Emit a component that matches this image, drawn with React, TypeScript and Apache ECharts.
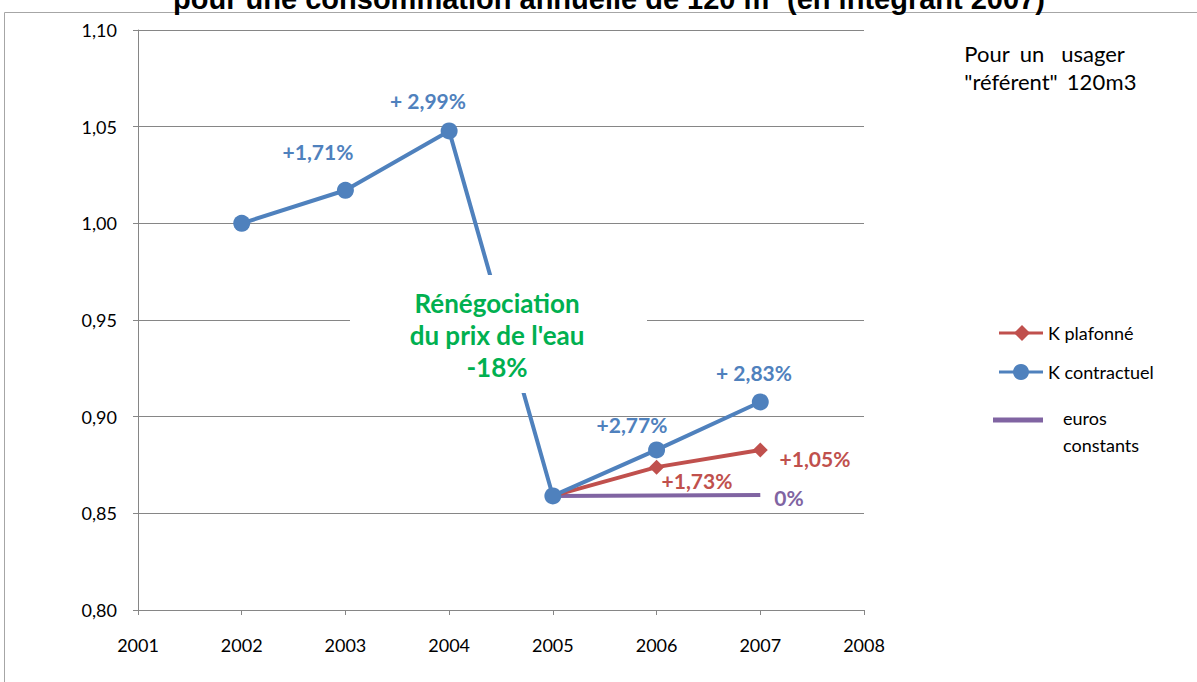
import React, { useEffect, useRef } from "react";
import * as echarts from "echarts";

const years = [2002, 2003, 2004, 2005, 2006, 2007];
const kContractuel = [1.0, 1.0171, 1.0478, 0.859, 0.8828, 0.9076];
const kPlafonneYears = [2005, 2006, 2007];
const kPlafonne = [0.859, 0.8739, 0.8828];
const eurosYears = [2005, 2007];
const eurosConstants = [0.859, 0.8595];

const blueLabels = ["+1,71%", "+ 2,99%", "+2,77%", "+ 2,83%"];
const redLabels = ["+1,73%", "+1,05%"];
const purpleLabel = "0%";

const BLUE = "#4F81BD";
const RED = "#C0504D";
const PURPLE = "#8064A2";
const GREEN = "#00B050";
const GRID = "#868686";
const FONT = "Lato, 'Open Sans', sans-serif";

export default function App() {
  const ref = useRef<HTMLDivElement>(null);
  useEffect(() => {
    document.body.style.margin = "0";
    const chart = echarts.init(ref.current!, null, { renderer: "svg" });
    const lbl = (text: string, x: number, y: number, fill: string, size = 21) => ({
      type: "text",
      x,
      y,
      z: 110,
      style: { text, fill, font: `bold ${size}px ${FONT}`, align: "center", verticalAlign: "middle" },
    });
    const txt = (text: string, x: number, y: number, size = 18, align = "left") => ({
      type: "text",
      x,
      y,
      z: 110,
      style: { text, fill: "#000", font: `${size}px ${FONT}`, align, verticalAlign: "middle" },
    });
    chart.setOption({
      animation: false,
      backgroundColor: "#fff",
      grid: { left: 138, right: 333, top: 30, bottom: 72 },
      xAxis: {
        type: "value",
        min: 2001,
        max: 2008,
        interval: 1,
        axisLine: { show: true, lineStyle: { color: GRID, width: 1 } },
        axisTick: { show: true, length: 5, lineStyle: { color: GRID } },
        splitLine: { show: false },
        axisLabel: {
          color: "#000",
          fontFamily: FONT,
          fontSize: 18,
          margin: 26,
          formatter: (v: number) => String(Math.round(v)),
        },
      },
      yAxis: {
        type: "value",
        min: 0.8,
        max: 1.1,
        interval: 0.05,
        axisLine: { show: true, lineStyle: { color: GRID, width: 1 } },
        axisTick: { show: true, length: 5, lineStyle: { color: GRID } },
        splitLine: { show: true, lineStyle: { color: GRID, width: 1 } },
        axisLabel: {
          color: "#000",
          fontFamily: FONT,
          fontSize: 18,
          margin: 21,
          formatter: (v: number) => v.toFixed(2).replace(".", ","),
        },
      },
      series: [
        {
          name: "euros constants",
          type: "line",
          data: eurosYears.map((y, i) => [y, eurosConstants[i]]),
          symbol: "none",
          lineStyle: { color: PURPLE, width: 4 },
          z: 3,
        },
        {
          name: "K plafonné",
          type: "line",
          data: kPlafonneYears.map((y, i) => [y, kPlafonne[i]]),
          symbol: "diamond",
          symbolSize: 15,
          itemStyle: { color: RED },
          lineStyle: { color: RED, width: 4 },
          z: 4,
        },
        {
          name: "K contractuel",
          type: "line",
          data: years.map((y, i) => [y, kContractuel[i]]),
          symbol: "circle",
          symbolSize: 17,
          itemStyle: { color: BLUE },
          lineStyle: { color: BLUE, width: 4 },
          z: 5,
        },
      ],
      graphic: [
        { type: "rect", z: 0, shape: { x: 4.5, y: 12.5, width: 1400, height: 900 }, style: { fill: "none", stroke: "#A6A6A6", lineWidth: 1 } },
        {
          type: "text",
          x: 609,
          y: -1,
          z: 110,
          style: {
            text: "pour une consommation annuelle de 120 m³ (en intégrant 2007)",
            fill: "#000",
            font: "bold 29px Arial, 'Liberation Sans', sans-serif",
            align: "center",
            verticalAlign: "middle",
          },
        },
        { type: "rect", z: 100, shape: { x: 350, y: 275, width: 297, height: 118 }, style: { fill: "#fff" } },
        lbl("Rénégociation", 497, 303, GREEN, 26),
        lbl("du prix de l'eau", 497, 335, GREEN, 26),
        lbl("-18%", 497, 367, GREEN, 26),
        lbl(blueLabels[0], 318, 151, BLUE),
        lbl(blueLabels[1], 428, 100, BLUE),
        lbl(blueLabels[2], 632, 424, BLUE),
        lbl(blueLabels[3], 754, 372, BLUE),
        lbl(redLabels[0], 697, 480, RED),
        lbl(redLabels[1], 815, 458, RED),
        lbl(purpleLabel, 789, 497, PURPLE),
        txt("Pour", 987, 53, 22, "center"),
        txt("un", 1032, 53, 22, "center"),
        txt("usager", 1093, 53, 22, "center"),
        txt("\"référent\"", 1011, 81, 22, "center"),
        txt("120", 1086, 81, 22, "center"),
        txt("m3", 1121, 81, 22, "center"),
        { type: "line", z: 110, shape: { x1: 999, y1: 333, x2: 1043, y2: 333 }, style: { stroke: RED, lineWidth: 3 } },
        { type: "polygon", z: 111, shape: { points: [[1022, 325], [1030, 333], [1022, 341], [1014, 333]] }, style: { fill: RED } },
        txt("K plafonné", 1048, 333),
        { type: "line", z: 110, shape: { x1: 999, y1: 372, x2: 1043, y2: 372 }, style: { stroke: BLUE, lineWidth: 3 } },
        { type: "circle", z: 111, shape: { cx: 1021, cy: 372, r: 8 }, style: { fill: BLUE } },
        txt("K contractuel", 1048, 372),
        { type: "line", z: 110, shape: { x1: 993, y1: 420, x2: 1043, y2: 420 }, style: { stroke: PURPLE, lineWidth: 5 } },
        txt("euros", 1063, 418),
        txt("constants", 1063, 445),
      ],
    });
    return () => chart.dispose();
  }, []);
  return <div ref={ref} style={{ width: 1197, height: 682, position: "absolute", left: 0, top: 0 }} />;
}
